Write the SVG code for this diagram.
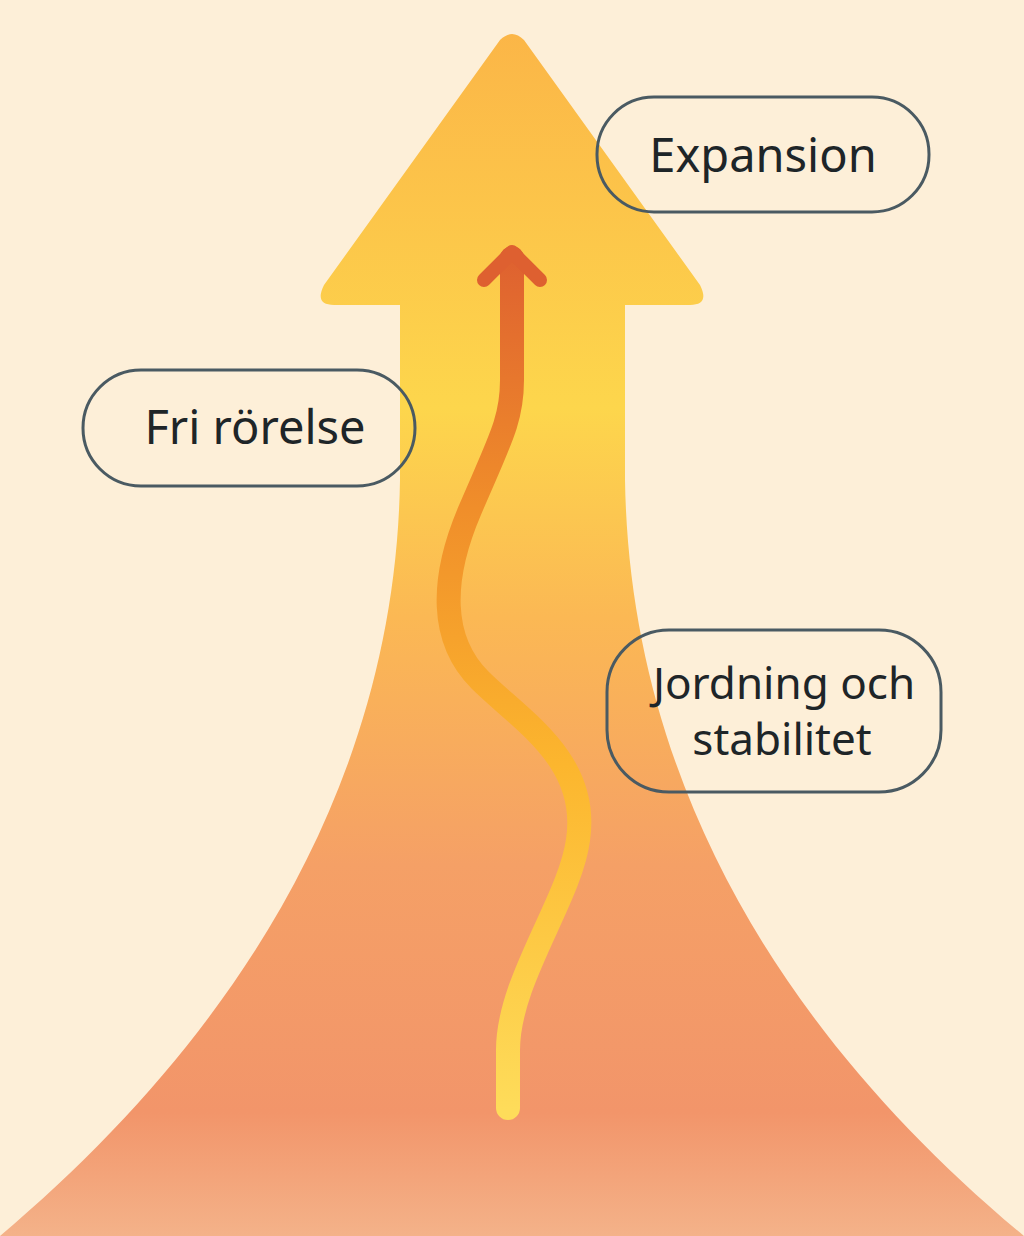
<svg xmlns="http://www.w3.org/2000/svg" width="1024" height="1236" viewBox="0 0 1024 1236">
<defs>
<linearGradient id="big" x1="0" y1="0" x2="0" y2="1236" gradientUnits="userSpaceOnUse">
<stop offset="0" stop-color="#FBB347"/>
<stop offset="0.33" stop-color="#FDD64C"/>
<stop offset="0.5" stop-color="#FBB854"/>
<stop offset="0.7" stop-color="#F5A066"/>
<stop offset="0.9" stop-color="#F2956A"/>
<stop offset="1" stop-color="#F4B289"/>
</linearGradient>
<linearGradient id="sq" x1="0" y1="1110" x2="0" y2="250" gradientUnits="userSpaceOnUse">
<stop offset="0" stop-color="#FEDC5A"/>
<stop offset="0.4" stop-color="#FCB62E"/>
<stop offset="0.7" stop-color="#F08E2A"/>
<stop offset="1" stop-color="#DE6030"/>
</linearGradient>
<style>
.pill{fill:none;stroke:#4A5A62;stroke-width:3}
.lbl{font-family:"Noto Sans","Open Sans",sans-serif;font-size:47px;fill:#1E2528;text-anchor:middle}
.sm{font-size:44px}
</style>
</defs>
<rect width="1024" height="1236" fill="#FDEFD8"/>
<g id="bigArrow">
<path d="M500,40 Q512,28 524,40 L700,285 Q710,305 690,305 L625,305 L625,480 C630,800 800,1050 1024,1236 L0,1236 C220,1050 395,800 400,480 L400,305 L334,305 Q314,305 324,285 Z" fill="url(#big)"/>
</g>
<g id="connectors">
<path d="M508,1108 L508,1050 C508,980 570,900 578,840 C590,760 520,720 480,680 C440,640 440,580 470,510 C500,440 512,420 512,380 L512,258" fill="none" stroke="url(#sq)" stroke-width="24" stroke-linecap="round"/>
<path d="M484,280 L512,252 L540,280" fill="none" stroke="#DE6030" stroke-width="14" stroke-linecap="round" stroke-linejoin="round"/>
</g>
<g id="expansion">
<rect class="pill" x="597" y="97" width="332" height="115" rx="57"/>
<text class="lbl" x="763" y="172">Expansion</text>
</g>
<g id="fri">
<rect class="pill" x="83" y="370" width="332" height="116" rx="58"/>
<text class="lbl" x="255" y="444">Fri rörelse</text>
</g>
<g id="jordning">
<rect class="pill" x="607" y="630" width="334" height="162" rx="62"/>
<text class="lbl sm" x="784" y="699">Jordning och</text>
<text class="lbl sm" x="782" y="755">stabilitet</text>
</g>
</svg>
